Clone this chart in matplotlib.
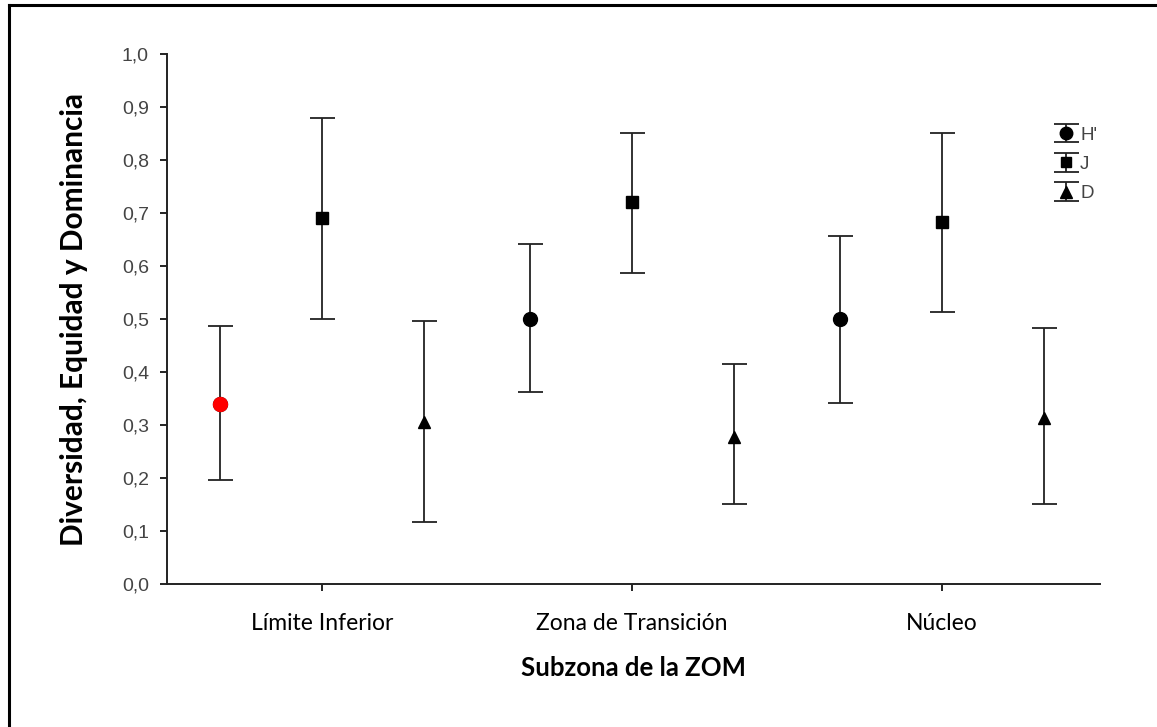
import numpy as np
import matplotlib
matplotlib.use('Agg')
import matplotlib.pyplot as plt
from matplotlib.lines import Line2D

# subzones and indices (mean with lower / upper limits)
zonas = ['Límite Inferior', 'Zona de Transición', 'Núcleo']
indices = ["H'", 'J', 'D']

h_media = [0.340, 0.500, 0.500]
h_inf = [0.197, 0.363, 0.341]
h_sup = [0.487, 0.641, 0.657]

j_media = [0.690, 0.720, 0.683]
j_inf = [0.500, 0.586, 0.513]
j_sup = [0.880, 0.851, 0.851]

d_media = [0.305, 0.277, 0.313]
d_inf = [0.117, 0.151, 0.151]
d_sup = [0.497, 0.415, 0.483]

yticks = [0.0, 0.1, 0.2, 0.3, 0.4, 0.5, 0.6, 0.7, 0.8, 0.9, 1.0]

fig = plt.figure(figsize=(11.57, 7.27), dpi=100)
ax = fig.add_axes([167/1157, 1-584/727, (1100-167)/1157, (584-54)/727])

x = np.arange(len(zonas))
desp = 0.33
series = [
    (h_media, h_inf, h_sup, 'o', -desp, 10),
    (j_media, j_inf, j_sup, 's', 0.0, 8),
    (d_media, d_inf, d_sup, '^', desp, 9),
]
handles = []
for (med, inf, sup, mk, dx, ms), lab in zip(series, indices):
    med = np.array(med)
    err = [med - np.array(inf), np.array(sup) - med]
    eb = ax.errorbar(x + dx, med, yerr=err, fmt=mk, color='black', ecolor='#222222',
                     elinewidth=1.3, capsize=9, capthick=1.3, markersize=ms, label=lab)
    handles.append(eb)

# first diversity value highlighted in red
ax.plot(x[0] - desp, h_media[0], 'o', color='#ff0000', markersize=10, zorder=5)

ax.set_xlim(-0.5, 2.51)
ax.set_ylim(0, 1.0)
ax.set_xticks(x)
ax.set_xticklabels(zonas, fontsize=16.5, family='Lato')
ax.set_yticks(yticks)
ax.set_yticklabels([('%.1f' % v).replace('.', ',') for v in yticks],
                   fontsize=14, color='#444444', family='Liberation Sans')
ax.tick_params(axis='y', direction='out', length=5, width=1.2, pad=8)
ax.tick_params(axis='x', direction='out', length=5, width=1.2, pad=16)
for s in ['top', 'right']:
    ax.spines[s].set_visible(False)
for s in ['left', 'bottom']:
    ax.spines[s].set_linewidth(1.4)
    ax.spines[s].set_color('#222222')

ax.set_ylabel('Diversidad, Equidad y Dominancia', fontsize=21.5, fontweight='bold',
              family='Lato', labelpad=24)
ax.set_xlabel('Subzona de la ZOM', fontsize=18.5, fontweight='bold', family='Lato',
              labelpad=16)

leg = ax.legend(handles=handles, labels=indices, loc='upper right',
                bbox_to_anchor=(1.015, 0.895), frameon=False, handlelength=0.9,
                handletextpad=0.3, labelspacing=0.65, markerscale=0.9,
                prop={'family': 'Liberation Sans', 'size': 13.5})
for t in leg.get_texts():
    t.set_color('#444444')

# outer frame of the figure
fig.add_artist(Line2D([9/1157, 1.0], [1-5/727, 1-5/727], color='black', lw=2.2))
fig.add_artist(Line2D([9/1157, 9/1157], [0.0, 1-5/727], color='black', lw=2.2))

fig.savefig('out.png', dpi=100)
